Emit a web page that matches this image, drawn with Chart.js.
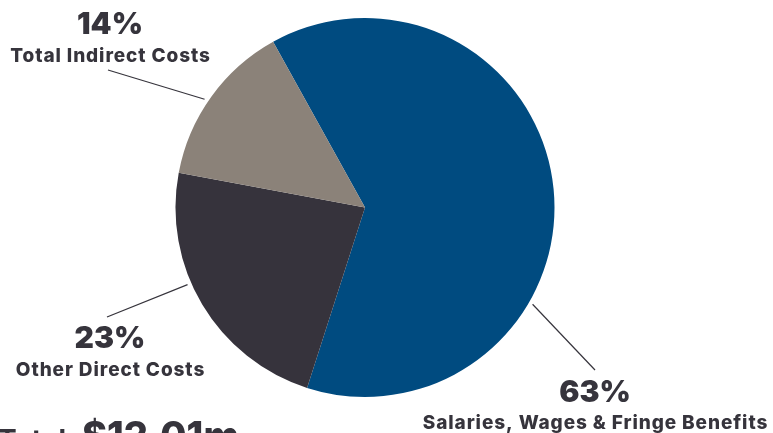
<!DOCTYPE html>
<html>
<head>
<meta charset="utf-8">
<script src="https://cdn.jsdelivr.net/npm/chart.js@4"></script>
<style>
  html, body { margin: 0; padding: 0; background: #fff; }
  #wrap { position: relative; width: 773px; height: 433px; overflow: hidden; }
</style>
</head>
<body>
<div id="wrap"><canvas id="costChart"></canvas></div>
<script>
const categories = ['Salaries, Wages & Fringe Benefits', 'Other Direct Costs', 'Total Indirect Costs'];
const shares = [63, 23, 14];
const totalWord = 'Total';
const totalAmount = '$12.01m';

const sliceColors = ['#004b80', '#36333c', '#8b8279'];
const TEXT = '#36343c';

// where each callout sits and the angle (deg, clockwise from top) its leader leaves the pie
const callouts = [
  { x: 595, pctY: 393, nameY: 422, leaderAngle: 120, end: [595, 370] },
  { x: 110, pctY: 339, nameY: 369, leaderAngle: 246.5, end: [107, 317] },
  { x: 110, pctY: 25, nameY: 55, leaderAngle: 304, end: [108, 70] }
];

const calloutPlugin = {
  id: 'callouts',
  afterDraw(chart) {
    const ctx = chart.ctx;
    const arcs = chart.getDatasetMeta(0).data;
    ctx.save();
    arcs.forEach((arc, i) => {
      const c = callouts[i];
      const a = (c.leaderAngle - 90) * Math.PI / 180;
      const r = arc.outerRadius + 4;
      ctx.beginPath();
      ctx.moveTo(arc.x + Math.cos(a) * r, arc.y + Math.sin(a) * r);
      ctx.lineTo(c.end[0], c.end[1]);
      ctx.strokeStyle = TEXT;
      ctx.lineWidth = 1.2;
      ctx.stroke();

      ctx.fillStyle = TEXT;
      ctx.textAlign = 'center';
      ctx.textBaseline = 'middle';
      ctx.letterSpacing = '0px';
      ctx.font = '900 30px Inter';
      ctx.fillText(shares[i] + '%', c.x, c.pctY);
      ctx.letterSpacing = '0.9px';
      ctx.font = '800 19px Inter';
      ctx.fillText(categories[i], c.x + 0.5, c.nameY + 1);
    });

    // total line along the bottom edge
    ctx.letterSpacing = '0px';
    ctx.textAlign = 'right';
    ctx.textBaseline = 'alphabetic';
    ctx.font = '700 28px Inter';
    ctx.fillText(totalWord, 66, 450);
    ctx.textAlign = 'left';
    ctx.font = '800 38px Inter';
    ctx.fillText(totalAmount, 82, 449);
    ctx.restore();
  }
};

new Chart(document.getElementById('costChart'), {
  type: 'pie',
  data: {
    labels: categories,
    datasets: [{
      data: shares,
      backgroundColor: sliceColors,
      borderWidth: 0
    }]
  },
  options: {
    responsive: true,
    maintainAspectRatio: false,
    animation: false,
    rotation: -29,
    layout: { padding: { top: 18, bottom: 36, left: 175.5, right: 218.5 } },
    plugins: {
      legend: { display: false },
      tooltip: { enabled: false }
    }
  },
  plugins: [calloutPlugin]
});
</script>
</body>
</html>
